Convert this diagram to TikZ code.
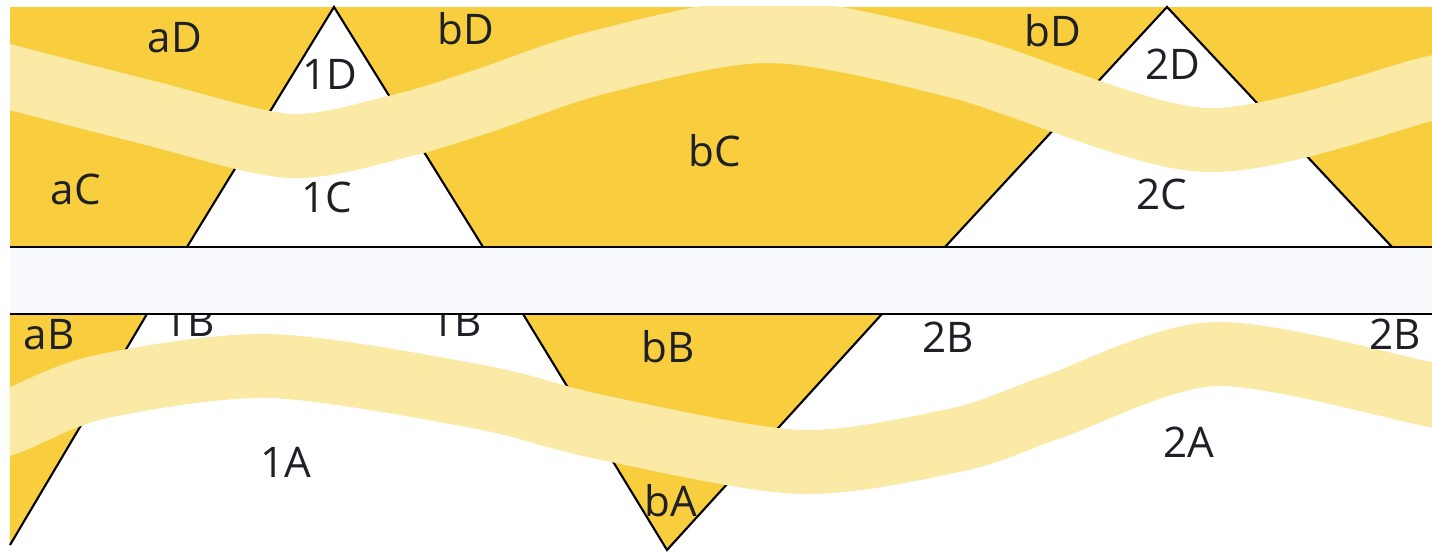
\documentclass[tikz,border=0pt]{standalone}
\usepackage{fontspec}
\setmainfont{Open Sans}
\definecolor{sun}{RGB}{249,206,62}
\definecolor{haze}{RGB}{250,234,166}
\definecolor{strip}{RGB}{249,250,253}
\definecolor{ink}{RGB}{30,32,40}

\tikzstyle{field}=[fill=sun]
\tikzstyle{edge}=[draw=black,line width=0.6pt]
\tikzstyle{wave}=[draw=haze,line width=6.4mm]
\tikzstyle{tag}=[anchor=base,inner sep=0pt,text=ink,font=\fontsize{12}{14}\selectfont]

\begin{document}
\begin{tikzpicture}[x=0.1mm,y=-0.1mm]
	\useasboundingbox (0,0) rectangle (1432,552);
	% upper band with its two white triangles
	\fill[field] (10,7) rectangle (1432,247);
	\coordinate (t1) at (334,7);
	\coordinate (l1) at (187,247);
	\coordinate (r1) at (483,247);
	\coordinate (t2) at (1167,7);
	\coordinate (l2) at (945,247);
	\coordinate (r2) at (1392,247);
	\fill[white] (l1) -- (t1) -- (r1) -- cycle;
	\fill[white] (l2) -- (t2) -- (r2) -- cycle;
	\draw[edge] (l1) -- (t1) -- (r1);
	\draw[edge] (l2) -- (t2) -- (r2);
	% lower band with its yellow triangles
	\coordinate (p0) at (10,314);
	\coordinate (p1) at (147,314);
	\coordinate (p2) at (10,545);
	\coordinate (q1) at (523,314);
	\coordinate (q2) at (882,314);
	\coordinate (q3) at (667,550);
	\fill[field] (p0) -- (p1) -- (p2) -- cycle;
	\fill[field] (q1) -- (q2) -- (q3) -- cycle;
	\draw[edge] (p1) -- (p2);
	\draw[edge] (q1) -- (q3) -- (q2);
	% the two light waves
	\begin{scope}
		\clip (10,7) rectangle (1432,247);
		\draw[wave] plot[smooth,tension=0.5] coordinates {(-30,65) (10,77) (150,113) (290,146) (400,126) (480,102) (600,62) (770,31) (960,67) (1205,140) (1432,88) (1480,78)};
	\end{scope}
	\begin{scope}
		\clip (10,314) rectangle (1432,552);
		\draw[wave] plot[smooth,tension=0.5] coordinates {(-30,435) (10,422) (100,387) (270,366) (480,397) (600,427) (800,462) (960,439) (1050,408) (1215,354) (1432,395) (1480,405)};
	\end{scope}
	% region labels
	\foreach \name/\x/\y/\txt in {aD/175/53/aD, 1D/330/90/1D, bDa/466/45/bD, bC/715/167/bC,
		bDb/1053/47/bD, 2D/1173/80/2D, aC/76/205/aC, 1C/327/213/1C, 2C/1162/210/2C,
		aB/49/350/aB, 1Ba/189/337/1B, 1Bb/456/337/1B, bB/668/363/bB, 2Ba/948/353/2B,
		2Bb/1395/350/2B, 1A/286/478/1A, bA/671/517/bA, 2A/1189/458/2A}
		\node[tag] (\name) at (\x,\y) {\txt};
	% middle strip
	\coordinate (sa) at (10,247);
	\coordinate (sb) at (1432,247);
	\coordinate (sc) at (10,314);
	\coordinate (sd) at (1432,314);
	\fill[strip] (sa) rectangle (sd);
	\draw[edge] (sa) -- (sb);
	\draw[edge] (sc) -- (sd);
\end{tikzpicture}
\end{document}
